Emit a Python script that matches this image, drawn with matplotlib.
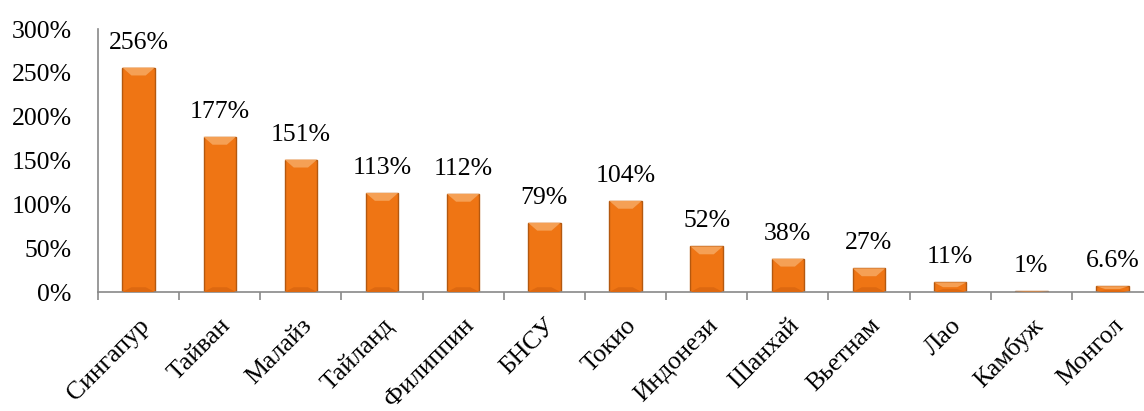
import numpy as np
from matplotlib import pyplot as plt
from matplotlib.patches import Polygon
from matplotlib.ticker import FixedLocator

countries = ["Сингапур", "Тайван", "Малайз", "Тайланд", "Филиппин", "БНСУ",
             "Токио", "Индонези", "Шанхай", "Вьетнам", "Лао", "Камбуж", "Монгол"]
values = [256, 177, 151, 113, 112, 79, 104, 52, 38, 27, 11, 1, 6.6]
labels = ["256%", "177%", "151%", "113%", "112%", "79%", "104%", "52%",
          "38%", "27%", "11%", "1%", "6.6%"]

plt.rcParams['font.family'] = ['Liberation Serif', 'DejaVu Serif']
FS = 18.5

fig = plt.figure(figsize=(11.44, 4.11), dpi=100)
ax = fig.add_axes([98 / 1144, (411 - 292) / 411, 1055 / 1144, 263 / 411])

x = np.arange(len(countries))
bars = ax.bar(x, values, width=0.4, color="#EF7514", edgecolor="#B4580F", linewidth=1.0)

# bevel: lighter top, darker bottom
for b in bars:
    x0, w, h = b.get_x(), b.get_width(), b.get_height()
    bev = min(9.0, h / 2)
    ins = w * 0.28
    top = Polygon([(x0, h), (x0 + w, h), (x0 + w - ins, h - bev), (x0 + ins, h - bev)],
                  closed=True, facecolor="#F5A055", edgecolor="none", zorder=3)
    bot = Polygon([(x0, 0), (x0 + w, 0), (x0 + w - ins, bev * 0.6), (x0 + ins, bev * 0.6)],
                  closed=True, facecolor="#DD6810", edgecolor="none", zorder=3)
    ax.add_patch(top)
    ax.add_patch(bot)

for xi, v, lab in zip(x, values, labels):
    ax.text(xi, v + 16, lab, ha="center", va="bottom", fontsize=FS)

ax.set_xlim(-0.5, len(countries) - 0.5)
ax.set_ylim(0, 300)
ax.set_yticks(np.arange(0, 301, 50))
ax.set_yticklabels([f"{t}%" for t in range(0, 301, 50)], fontsize=FS)
ax.tick_params(axis="y", length=0, pad=19)

ax.set_xticks(x)
ax.set_xticklabels(countries, rotation=45, ha="right", rotation_mode="anchor", fontsize=FS)
ax.tick_params(axis="x", which="major", length=0, pad=16)
ax.xaxis.set_minor_locator(FixedLocator(np.arange(-0.5, len(countries), 1.0)))
ax.tick_params(axis="x", which="minor", length=6, color="#898989", width=1.2)

for side in ["top", "right"]:
    ax.spines[side].set_visible(False)
for side in ["left", "bottom"]:
    ax.spines[side].set_color("#898989")
    ax.spines[side].set_linewidth(1.2)

fig.savefig("out.png", dpi=100)
